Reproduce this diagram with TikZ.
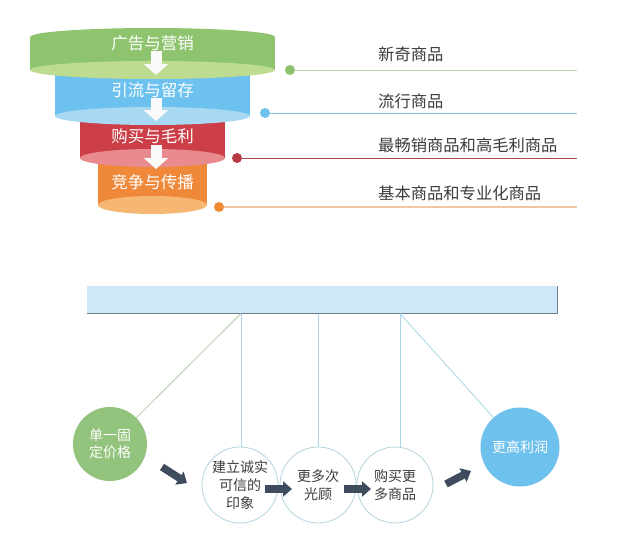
\documentclass[tikz,border=0pt]{standalone}
\usepackage{fontspec}
\setmainfont{Noto Sans CJK SC}
\usetikzlibrary{arrows.meta,calc}
\definecolor{gmain}{HTML}{8FC46E}
\definecolor{glight}{HTML}{BEDC8F}
\definecolor{bmain}{HTML}{6CC1EE}
\definecolor{blight}{HTML}{A9D9F2}
\definecolor{rmain}{HTML}{CC3E48}
\definecolor{rlight}{HTML}{E88A8E}
\definecolor{omain}{HTML}{F0883A}
\definecolor{olight}{HTML}{F6B774}
\definecolor{gdot}{HTML}{8DBF6D}
\definecolor{bdot}{HTML}{6EC1EC}
\definecolor{rdot}{HTML}{B83A45}
\definecolor{odot}{HTML}{EE8A32}
\definecolor{gln}{HTML}{BCD6A6}
\definecolor{bln}{HTML}{86C6E4}
\definecolor{rln}{HTML}{AE4A56}
\definecolor{oln}{HTML}{F1C6A0}
\definecolor{txt}{HTML}{3C3C3C}
\definecolor{barfill}{HTML}{CFE8F7}
\definecolor{barshadow}{HTML}{6E7E8B}
\definecolor{vcol}{HTML}{A9D3E6}
\definecolor{gcol}{HTML}{B3CCA6}
\definecolor{ccol}{HTML}{B5D3DF}
\definecolor{darrow}{HTML}{3E4C5E}
\definecolor{gcirc}{HTML}{93C47D}
\definecolor{bcirc}{HTML}{6EC1EC}
\tikzset{
  flabel/.style={text=white,font=\fontsize{16.5pt}{18pt}\selectfont,inner sep=0pt},
  rlabel/.style={text=txt,font=\fontsize{16.3pt}{18pt}\selectfont,anchor=west,inner sep=0pt},
  fdot/.style={circle,minimum size=10pt,inner sep=0pt},
  warrow/.style={line width=11pt,color=white!96!gray,-{Triangle[length=11pt,width=24pt]}},
  darr/.style={line width=7.5pt,color=darrow,-{Triangle[length=9pt,width=15pt]}},
  wcirc/.style={circle,draw=ccol,line width=0.8pt,fill=white,minimum size=76pt,inner sep=0pt,
    align=center,text=txt,font=\fontsize{14pt}{18pt}\selectfont},
  ccirc/.style={circle,minimum size=76pt,inner sep=0pt,align=center,text=white,
    font=\fontsize{14pt}{17pt}\selectfont},
  vline/.style={draw=vcol,line width=0.8pt},
}
\begin{document}
\begin{tikzpicture}[x=1pt,y=-1pt]
\useasboundingbox[fill=white] (0,0) rectangle (624,552);
% ---- funnel layers (bottom first) ----
% orange
\fill[omain] (98,158) rectangle (207,205);
\fill[omain] (152.5,158) ellipse [x radius=54.5, y radius=9];
\fill[olight] (152.5,205) ellipse [x radius=54.5, y radius=9];
% red
\fill[rmain] (80,116) rectangle (225,158);
\fill[rmain] (152.5,116) ellipse [x radius=72.5, y radius=9];
\fill[rlight] (152.5,158) ellipse [x radius=72.5, y radius=9];
% blue
\fill[bmain] (55,70) rectangle (250,116);
\fill[bmain] (152.5,70) ellipse [x radius=97.5, y radius=9];
\fill[blight] (152.5,116) ellipse [x radius=97.5, y radius=9];
% green
\fill[gmain] (30,37) rectangle (275,70);
\fill[gmain] (152.5,37) ellipse [x radius=122.5, y radius=9];
\fill[glight] (152.5,70) ellipse [x radius=122.5, y radius=9];
% labels
\node[flabel] (f1) at (152.5,43) {广告与营销};
\node[flabel] (f2) at (152.5,90) {引流与留存};
\node[flabel] (f3) at (152.5,136) {购买与毛利};
\node[flabel] (f4) at (152.5,182) {竞争与传播};
% white arrows
\coordinate (a1s) at (156,51); \coordinate (a1e) at (156,75);
\coordinate (a2s) at (156,98); \coordinate (a2e) at (156,121);
\coordinate (a3s) at (156,145); \coordinate (a3e) at (156,169);
\draw[warrow] (a1s) -- (a1e);
\draw[warrow] (a2s) -- (a2e);
\draw[warrow] (a3s) -- (a3e);
% dots and lines
\coordinate (e1) at (577,70);
\coordinate (e2) at (577,113);
\coordinate (e3) at (577,158);
\coordinate (e4) at (577,207);
\node[fdot,fill=gdot] (d1) at (290,70) {};
\node[fdot,fill=bdot] (d2) at (265,113) {};
\node[fdot,fill=rdot] (d3) at (237,158) {};
\node[fdot,fill=odot] (d4) at (219,207) {};
\draw[gln,line width=1pt] (d1) -- (e1);
\draw[bln,line width=1pt] (d2) -- (e2);
\draw[rln,line width=1pt] (d3) -- (e3);
\draw[oln,line width=1.2pt] (d4) -- (e4);
\node[rlabel] (l1) at (378,54) {新奇商品};
\node[rlabel] (l2) at (378,101) {流行商品};
\node[rlabel] (l3) at (378,145) {最畅销商品和高毛利商品};
\node[rlabel] (l4) at (378,193) {基本商品和专业化商品};
% ---- bottom part ----
\node[fill=barfill,minimum width=470pt,minimum height=27pt,inner sep=0pt] (bar) at (322,299.5) {};
\draw[barshadow,line width=1.2pt] (bar.south west) -- (bar.south east) -- (bar.north east);
\node[ccirc,fill=gcirc,minimum size=74pt] (g) at (110,444) {单一固\\定价格};
\node[ccirc,fill=bcirc,minimum size=79pt] (b) at (520,447) {更高利润};
\coordinate (t1) at (241,313.5);
\coordinate (t2) at (318,313.5);
\coordinate (t3) at (400,313.5);
\node[wcirc] (c1) at (240,485) {建立诚实\\可信的\\印象};
\node[wcirc] (c2) at (318,485) {更多次\\光顾};
\node[wcirc] (c3) at (395,485) {购买更\\多商品};
\draw[gcol,line width=0.8pt] (t1) -- (g);
\draw[vline] (t3) -- (b);
\draw[vline] (t1) -- (t1 |- c1.north);
\draw[vline] (t2) -- (t2 |- c2.north);
\draw[vline] (t3) -- (t3 |- c3.north);
% dark arrows
\coordinate (k1s) at (162,467); \coordinate (k1e) at (187,483);
\coordinate (k2s) at (265,489); \coordinate (k2e) at (292,489);
\coordinate (k3s) at (344,489); \coordinate (k3e) at (371,489);
\coordinate (k4s) at (446,484); \coordinate (k4e) at (471,471);
\draw[darr] (k1s) -- (k1e);
\draw[darr] (k2s) -- (k2e);
\draw[darr] (k3s) -- (k3e);
\draw[darr] (k4s) -- (k4e);
\end{tikzpicture}
\end{document}
